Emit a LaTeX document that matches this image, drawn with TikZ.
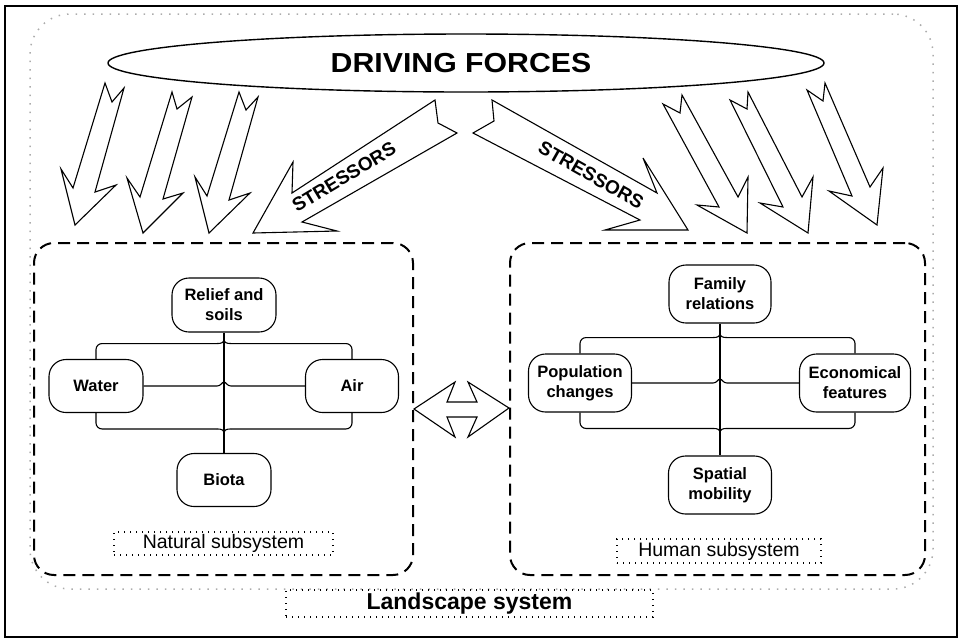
\documentclass[tikz,border=0pt]{standalone}
\usepackage{fontspec}
\setmainfont{Liberation Sans}
\usetikzlibrary{shapes.geometric,calc}

\newcommand\hubconn[6]{%
  % #1 top node, #2 left node, #3 right node, #4 bottom node, #5 upper offset, #6 lower offset
  \coordinate (hU) at ($(#1.south)+(0,#5)$);
  \coordinate (hL) at ($(#4.north)+(0,-#6)$);
  \coordinate (hM) at (#1.south |- #2.east);
  \draw[conn] (#1.south) -- (#4.north);
  \draw[conn, rounded corners=6pt] (#2.north) |- ($(hU)+(-7,0)$);
  \draw[conn, rounded corners=6pt] (#3.north) |- ($(hU)+(7,0)$);
  \draw[conn] ($(hU)+(-7,0)$) .. controls ($(hU)+(-2,0)$) and ($(hU)+(0,-1)$) .. ($(hU)+(0,-5)$)
              .. controls ($(hU)+(0,-1)$) and ($(hU)+(2,0)$) .. ($(hU)+(7,0)$);
  \draw[conn, rounded corners=6pt] (#2.south) |- ($(hL)+(-7,0)$);
  \draw[conn, rounded corners=6pt] (#3.south) |- ($(hL)+(7,0)$);
  \draw[conn] ($(hL)+(-7,0)$) .. controls ($(hL)+(-2,0)$) and ($(hL)+(0,1)$) .. ($(hL)+(0,5)$)
              .. controls ($(hL)+(0,1)$) and ($(hL)+(2,0)$) .. ($(hL)+(7,0)$);
  \draw[conn] (#2.east) -- ($(hM)+(-7,0)$) .. controls ($(hM)+(-3,0)$) and ($(hM)+(-2,-4)$) .. ($(hM)+(0,-4)$)
              .. controls ($(hM)+(2,-4)$) and ($(hM)+(3,0)$) .. ($(hM)+(7,0)$) -- (#3.west);
}

\begin{document}
\begin{tikzpicture}[x=1pt,y=-1pt,
  nbox/.style={draw, line width=1.1pt, rounded corners=17pt, align=center,
    font=\fontsize{16.5}{20}\selectfont\bfseries, inner sep=2pt, fill=white},
  subbox/.style={draw, line width=2pt, dash pattern=on 12pt off 7pt, rounded corners=20pt},
  lab/.style={draw, line width=1.3pt, dash pattern=on 1.3pt off 4.7pt,
    font=\fontsize{19.5}{22}\selectfont, inner sep=0pt},
  conn/.style={line width=1.1pt},
  blockarrow/.style={draw, line width=1.1pt, fill=white, line join=miter},
  stress/.style={font=\fontsize{19}{19}\selectfont\bfseries, inner sep=0pt},
]
\useasboundingbox (0,0) rectangle (961,638);

% outer frame
\draw[line width=2pt] (5,6) rectangle (957,637);

% landscape system boundary
\node[draw=gray!65, line width=1.5pt, dash pattern=on 1.5pt off 7pt, rounded corners=40pt,
      minimum width=903pt, minimum height=575pt] (land) at (481.5,301.5) {};

% driving forces
\node[draw, ellipse, line width=1.4pt, minimum width=716pt, minimum height=58pt, inner sep=0pt] (drive) at (466,63) {};
\node[font=\fontsize{27.5}{30}\selectfont\bfseries, inner sep=0pt] (drivetxt) at (461,63) {\scalebox{1.1}[1]{DRIVING FORCES}};

% left block arrows
\draw[blockarrow] (105,83) -- (112,102) -- (124,88) -- (95,192) -- (116,185) -- (75,225) -- (61,169) -- (73,188) -- cycle;
\draw[blockarrow] (172,92) -- (177,109) -- (192,97) -- (163,199) -- (183,193) -- (143,233) -- (127,178) -- (140,197) -- cycle;
\draw[blockarrow] (239,92) -- (246,110) -- (258,97) -- (229,200) -- (250,193) -- (209,233) -- (195,177) -- (207,196) -- cycle;

% right block arrows
\draw[blockarrow] (663,104) -- (680,113) -- (682,95) -- (738,197) -- (748,177) -- (747,233) -- (697,205) -- (719,207) -- cycle;
\draw[blockarrow] (730,100) -- (747,109) -- (748,92) -- (802,197) -- (813,177) -- (808,233) -- (760,203) -- (783,207) -- cycle;
\draw[blockarrow] (807,90) -- (823,101) -- (825,83) -- (870,187) -- (883,168) -- (877,225) -- (829,191) -- (852,196) -- cycle;

% stressors arrows
\draw[blockarrow] (435,100) -- (438,123) -- (457,133) -- (302,222) -- (337,231) -- (253,233) -- (293,162) -- (292,193) -- cycle;
\draw[blockarrow] (492,100) -- (494,121) -- (473,133) -- (640,220) -- (605,230) -- (688,230) -- (643,158) -- (657,193) -- cycle;
\node[stress, rotate=31] (stressL) at (344,177) {STRESSORS};
\node[stress, rotate=-29.5] (stressR) at (591,175) {STRESSORS};

% subsystems
\node[subbox, minimum width=379pt, minimum height=332pt] (natbox) at (223.5,409) {};
\node[subbox, minimum width=415pt, minimum height=332pt] (humbox) at (717.5,409) {};

% double arrow between subsystems
\draw[blockarrow] (natbox.east |- 0,409) -- (455,382) -- (447,402) -- (477,402) -- (468,382)
  -- (humbox.west |- 0,408) -- (468,437) -- (477,417) -- (447,417) -- (455,437) -- cycle;

% natural subsystem
\node[nbox, minimum width=104pt, minimum height=54pt] (relief) at (224,305) {Relief and\\soils};
\node[nbox, minimum width=94pt, minimum height=53pt] (water) at (96,386) {Water};
\node[nbox, minimum width=93pt, minimum height=53pt] (air) at (352,386) {Air};
\node[nbox, minimum width=94pt, minimum height=53pt] (biota) at (224,480) {Biota};
\hubconn{relief}{water}{air}{biota}{11}{24}
\node[lab, minimum width=219pt, minimum height=23pt] (natlab) at (223.5,543.5) {Natural subsystem};

% human subsystem
\node[nbox, minimum width=102pt, minimum height=58pt] (family) at (720,294) {Family\\relations};
\node[nbox, minimum width=103pt, minimum height=58pt] (popul) at (580,383) {Population\\changes};
\node[nbox, minimum width=111pt, minimum height=58pt] (econ) at (855,383) {Economical\\features};
\node[nbox, minimum width=103pt, minimum height=58pt] (spatial) at (720,485) {Spatial\\mobility};
\hubconn{family}{popul}{econ}{spatial}{14}{27}
\node[lab, minimum width=204pt, minimum height=24pt] (humlab) at (719,551) {Human subsystem};

% landscape system label
\node[lab, minimum width=367pt, minimum height=27pt, font=\fontsize{23}{25}\selectfont\bfseries] (landlab) at (469.5,603.5) {Landscape system};
\end{tikzpicture}
\end{document}
